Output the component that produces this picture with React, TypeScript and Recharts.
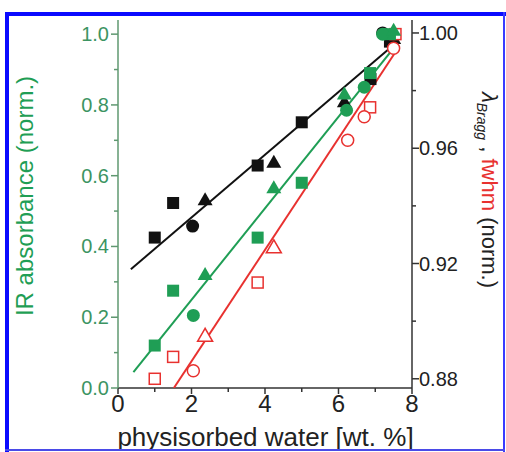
import React from "react";
import { ComposedChart, Scatter, XAxis, YAxis } from "recharts";

// x = physisorbed water [wt. %]
// IR absorbance (norm.), left axis
const irSquares = [[1.0, 0.12], [1.5, 0.275], [3.8, 0.425], [5.0, 0.58], [6.86, 0.89], [7.4, 1.0]];
const irCircles = [[2.05, 0.205], [6.22, 0.785], [6.7, 0.85], [7.2, 1.0]];
const irTriangles = [[2.37, 0.32], [4.24, 0.565], [6.16, 0.83], [7.5, 1.01]];
const irFit = [[0.42, 0.045], [7.55, 0.967]];

// lambda Bragg (norm.), right axis
const braggSquares = [[1.0, 0.929], [1.5, 0.941], [3.8, 0.954], [5.0, 0.969], [6.87, 0.984], [7.4, 0.997]];
const braggCircles = [[2.03, 0.933], [7.2, 1.0]];
const braggTriangles = [[2.37, 0.942], [4.24, 0.955], [6.16, 0.976], [7.5, 0.998]];
const braggFit = [[0.35, 0.918], [7.49, 0.9957]];

// fwhm (norm.), right axis
const fwhmSquares = [[1.0, 0.88], [1.5, 0.8876], [3.8, 0.9134], [6.86, 0.9742], [7.55, 0.9996]];
const fwhmCircles = [[2.05, 0.8828], [6.25, 0.9628], [6.7, 0.9709], [7.5, 0.9947]];
const fwhmTriangles = [[2.37, 0.8948], [4.24, 0.9255]];
const fwhmFit = [[1.52, 0.8768], [7.65, 0.9953]];

const xTicks = [0, 1, 2, 3, 4, 5, 6, 7, 8];
const leftTicks = [0, 0.1, 0.2, 0.3, 0.4, 0.5, 0.6, 0.7, 0.8, 0.9, 1.0];
const rightTicks = [0.88, 0.9, 0.92, 0.94, 0.96, 0.98, 1.0];

const GREEN = "#1f9e55";
const GREEN_TXT = "#3c9462";
const GREEN_AXIS = "#5f9870";
const RED = "#e8312f";
const BLACK = "#111";
const FONT = "'Liberation Sans', Arial, sans-serif";

const pts = (arr: number[][]) => arr.map(([x, y]) => ({ x, y }));

const marker = (kind: string, color: string, open: boolean) => (props: any) => {
  const { cx, cy } = props;
  if (cx == null || cy == null) return <g />;
  const fill = open ? "#fff" : color;
  const sw = open ? 1.5 : 0;
  if (kind === "square") {
    const s = open ? 11 : 12;
    return <rect x={cx - s / 2} y={cy - s / 2} width={s} height={s} fill={fill} stroke={color} strokeWidth={sw} />;
  }
  if (kind === "circle") {
    return <circle cx={cx} cy={cy} r={open ? 6 : 6.5} fill={fill} stroke={color} strokeWidth={sw} />;
  }
  const h = 13;
  const w = 15;
  return (
    <polygon
      points={`${cx},${cy - h * 0.6} ${cx - w / 2},${cy + h * 0.4} ${cx + w / 2},${cy + h * 0.4}`}
      fill={fill}
      stroke={color}
      strokeWidth={sw}
    />
  );
};

const noShape = () => <g />;

const LeftTick = (props: any) => {
  const { x, y, payload } = props;
  const major = Math.round(payload.value * 10) % 2 === 0;
  return (
    <g>
      <line x1={x} x2={x - (major ? 7 : 4)} y1={y} y2={y} stroke={GREEN_AXIS} strokeWidth={1.5} />
      {major && (
        <text x={x - 9} y={y} dy="0.35em" textAnchor="end" fontSize={20} fill={GREEN_TXT} fontFamily={FONT}>
          {payload.value.toFixed(1)}
        </text>
      )}
    </g>
  );
};

const RightTick = (props: any) => {
  const { x, y, payload } = props;
  const major = Math.round(payload.value * 100) % 4 === 0;
  return (
    <g>
      <line x1={x} x2={x + (major ? 7 : 4)} y1={y} y2={y} stroke="#333" strokeWidth={1.5} />
      {major && (
        <text x={x + 7} y={y} dy="0.35em" textAnchor="start" fontSize={20} fill="#222" fontFamily={FONT}>
          {payload.value.toFixed(2)}
        </text>
      )}
    </g>
  );
};

const BottomTick = (props: any) => {
  const { x, y, payload } = props;
  const major = payload.value % 2 === 0;
  return (
    <g>
      <line x1={x} x2={x} y1={y} y2={y + (major ? 6 : 4)} stroke="#333" strokeWidth={1.5} />
      {major && (
        <text x={x} y={y + 24} textAnchor="middle" fontSize={24} fill="#222" fontFamily={FONT}>
          {payload.value}
        </text>
      )}
    </g>
  );
};

export default function App() {
  return (
    <div style={{ position: "absolute", left: 0, top: 0, width: 506, height: 452, background: "#fff" }}>
      <ComposedChart width={506} height={452} margin={{ top: 20, right: 0, bottom: 0, left: 0 }}>
        <XAxis
          xAxisId="top"
          orientation="top"
          dataKey="x"
          type="number"
          domain={[0, 8]}
          height={0}
          tick={false}
          tickLine={false}
          axisLine={{ stroke: "#222", strokeWidth: 1.5 }}
        />
        <XAxis
          dataKey="x"
          type="number"
          domain={[0, 8]}
          ticks={xTicks}
          interval={0}
          height={64}
          tickSize={0}
          tickMargin={0}
          tickLine={false}
          tick={BottomTick}
          axisLine={{ stroke: "#333", strokeWidth: 1.5 }}
        />
        <YAxis
          yAxisId="left"
          dataKey="y"
          type="number"
          domain={[0, 1.04]}
          ticks={leftTicks}
          interval={0}
          width={118}
          tickSize={0}
          tickMargin={0}
          tickLine={false}
          tick={LeftTick}
          axisLine={{ stroke: GREEN_AXIS, strokeWidth: 1.5 }}
          allowDataOverflow
        />
        <YAxis
          yAxisId="right"
          orientation="right"
          dataKey="y"
          type="number"
          domain={[0.8768, 1.0045]}
          ticks={rightTicks}
          interval={0}
          width={94}
          tickSize={0}
          tickMargin={0}
          tickLine={false}
          tick={RightTick}
          axisLine={{ stroke: "#333", strokeWidth: 1.5 }}
          allowDataOverflow
        />

        <Scatter yAxisId="right" data={pts(braggFit)} line={{ stroke: BLACK, strokeWidth: 2 }} shape={noShape} isAnimationActive={false} />
        <Scatter yAxisId="left" data={pts(irFit)} line={{ stroke: GREEN, strokeWidth: 2 }} shape={noShape} isAnimationActive={false} />
        <Scatter yAxisId="right" data={pts(fwhmFit)} line={{ stroke: RED, strokeWidth: 2 }} shape={noShape} isAnimationActive={false} />

        <Scatter yAxisId="right" data={pts(braggSquares)} shape={marker("square", BLACK, false)} isAnimationActive={false} />
        <Scatter yAxisId="right" data={pts(braggCircles)} shape={marker("circle", BLACK, false)} isAnimationActive={false} />
        <Scatter yAxisId="right" data={pts(braggTriangles)} shape={marker("triangle", BLACK, false)} isAnimationActive={false} />

        <Scatter yAxisId="right" data={pts(fwhmSquares)} shape={marker("square", RED, true)} isAnimationActive={false} />
        <Scatter yAxisId="right" data={pts(fwhmCircles)} shape={marker("circle", RED, true)} isAnimationActive={false} />
        <Scatter yAxisId="right" data={pts(fwhmTriangles)} shape={marker("triangle", RED, true)} isAnimationActive={false} />

        <Scatter yAxisId="left" data={pts(irSquares)} shape={marker("square", GREEN, false)} isAnimationActive={false} />
        <Scatter yAxisId="left" data={pts(irCircles)} shape={marker("circle", GREEN, false)} isAnimationActive={false} />
        <Scatter yAxisId="left" data={pts(irTriangles)} shape={marker("triangle", GREEN, false)} isAnimationActive={false} />
      </ComposedChart>

      <svg width={506} height={452} style={{ position: "absolute", left: 0, top: 0, pointerEvents: "none" }}>
        <text transform="translate(33,196) rotate(-90)" textAnchor="middle" fontSize={24} fill={GREEN} fontFamily={FONT}>
          IR absorbance (norm.)
        </text>
        <text transform="translate(482,190) rotate(90)" textAnchor="middle" fontSize={22} fill="#222" fontFamily={FONT}>
          <tspan fontStyle="italic">λ</tspan>
          <tspan fontSize={14} fontStyle="italic" dy={5}>Bragg</tspan>
          <tspan dy={-5}> , </tspan>
          <tspan fill={RED}>fwhm</tspan>
          <tspan> (norm.)</tspan>
        </text>
        <text x={265.5} y={446} textAnchor="middle" fontSize={26} fill="#222" fontFamily={FONT}>
          physisorbed water [wt. %]
        </text>
      </svg>

      <div style={{ position: "absolute", left: 5, top: 12, width: 501, height: 4, background: "#0a0aff" }} />
      <div style={{ position: "absolute", left: 5, top: 12, width: 4, height: 440, background: "#0a0aff" }} />
      <div style={{ position: "absolute", left: 503, top: 12, width: 2, height: 440, background: "#3a3aff" }} />
      <div style={{ position: "absolute", left: 5, top: 449, width: 500, height: 2, background: "#4a4ae8" }} />
    </div>
  );
}
